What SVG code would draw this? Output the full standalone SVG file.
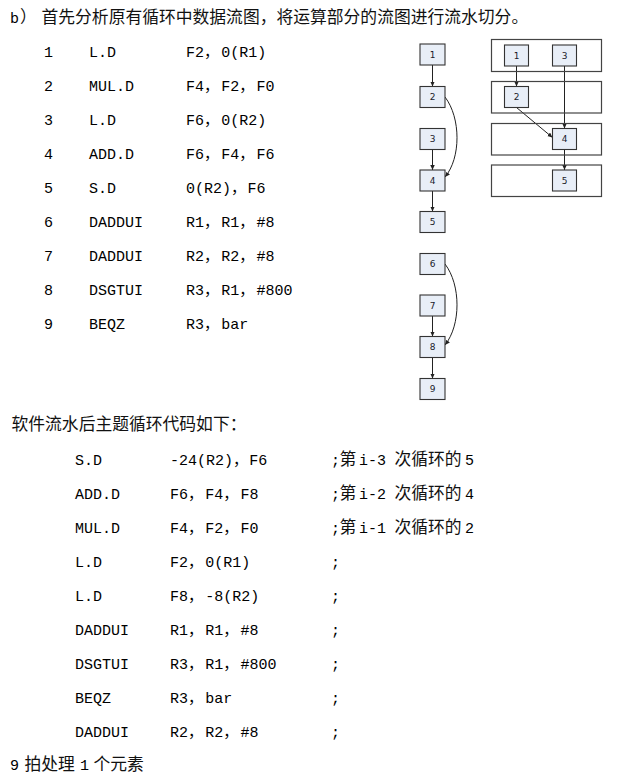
<svg xmlns="http://www.w3.org/2000/svg" width="623" height="776" viewBox="0 0 623 776">
<style>
.zh{font-family:"Noto Sans CJK SC",sans-serif;font-size:16.8px;fill:#111}
.mono{font-family:"Liberation Mono","Noto Sans CJK SC",monospace;font-size:15px;fill:#000}
.node rect{fill:#e8eef7;stroke:#333;stroke-width:1.1}
.node text{font-family:"DejaVu Sans",sans-serif;font-size:9px;fill:#1a1a2a;text-anchor:middle}
.stage{fill:none;stroke:#444;stroke-width:1.2}
.edge{fill:none;stroke:#222;stroke-width:1;marker-end:url(#ah)}
</style>
<defs>
<marker id="ah" markerUnits="userSpaceOnUse" markerWidth="6" markerHeight="5" refX="5" refY="2.25" orient="auto">
<path d="M0,0 L5,2.25 L0,4.5 z" fill="#222"/>
</marker>
</defs>
<rect width="623" height="776" fill="#fff"/>

<g id="title">
<text class="mono" x="10" y="23">b</text>
<text class="zh" x="20" y="23">）</text>
<text class="zh" x="41.5" y="23">首先分析原有循环中数据流图，将运算部分的流图进行流水切分。</text>
</g>

<g id="code1" class="mono">
<text x="44" y="57">1</text><text x="89" y="57">L.D</text><text y="57"><tspan x="186">F2，</tspan><tspan x="221.2">0(R1)</tspan></text>
<text x="44" y="91">2</text><text x="89" y="91">MUL.D</text><text y="91"><tspan x="186">F4，</tspan><tspan x="221.2">F2，</tspan><tspan x="256.4">F0</tspan></text>
<text x="44" y="125">3</text><text x="89" y="125">L.D</text><text y="125"><tspan x="186">F6，</tspan><tspan x="221.2">0(R2)</tspan></text>
<text x="44" y="159">4</text><text x="89" y="159">ADD.D</text><text y="159"><tspan x="186">F6，</tspan><tspan x="221.2">F4，</tspan><tspan x="256.4">F6</tspan></text>
<text x="44" y="193">5</text><text x="89" y="193">S.D</text><text y="193"><tspan x="186">0(R2)，</tspan><tspan x="247.6">F6</tspan></text>
<text x="44" y="227">6</text><text x="89" y="227">DADDUI</text><text y="227"><tspan x="186">R1，</tspan><tspan x="221.2">R1，</tspan><tspan x="256.4">#8</tspan></text>
<text x="44" y="261">7</text><text x="89" y="261">DADDUI</text><text y="261"><tspan x="186">R2，</tspan><tspan x="221.2">R2，</tspan><tspan x="256.4">#8</tspan></text>
<text x="44" y="295">8</text><text x="89" y="295">DSGTUI</text><text y="295"><tspan x="186">R3，</tspan><tspan x="221.2">R1，</tspan><tspan x="256.4">#800</tspan></text>
<text x="44" y="329">9</text><text x="89" y="329">BEQZ</text><text y="329"><tspan x="186">R3，</tspan><tspan x="221.2">bar</tspan></text>
</g>

<g id="connectors">
<line class="edge" x1="432.5" y1="65" x2="432.5" y2="86.5"/>
<path class="edge" d="M445,97 C461,118 461,158 445,177"/>
<line class="edge" x1="432.5" y1="149.5" x2="432.5" y2="170"/>
<line class="edge" x1="432.5" y1="191" x2="432.5" y2="211.5"/>
<path class="edge" d="M445,264 C461,285 461,325 445,345"/>
<line class="edge" x1="432.5" y1="316" x2="432.5" y2="336.5"/>
<line class="edge" x1="432.5" y1="357.5" x2="432.5" y2="378.5"/>
<line class="edge" x1="516.5" y1="66" x2="516.5" y2="86.5"/>
<line class="edge" x1="564.5" y1="66" x2="564.5" y2="128.5"/>
<line class="edge" x1="516.5" y1="107.5" x2="552.5" y2="137.5"/>
<line class="edge" x1="564.5" y1="149.5" x2="564.5" y2="170"/>
</g>

<g id="stages">
<rect class="stage" x="491.5" y="39.5" width="110" height="32"/>
<rect class="stage" x="491.5" y="81.5" width="110" height="31.5"/>
<rect class="stage" x="491.5" y="123.5" width="110" height="31.5"/>
<rect class="stage" x="491.5" y="165" width="110" height="31.5"/>
</g>

<g id="L1" class="node"><rect x="420" y="44" width="25" height="21"/><text x="432.5" y="57.5">1</text></g>
<g id="L2" class="node"><rect x="420" y="86.5" width="25" height="21"/><text x="432.5" y="100">2</text></g>
<g id="L3" class="node"><rect x="420" y="128.5" width="25" height="21"/><text x="432.5" y="142">3</text></g>
<g id="L4" class="node"><rect x="420" y="170" width="25" height="21"/><text x="432.5" y="183.5">4</text></g>
<g id="L5" class="node"><rect x="420" y="211.5" width="25" height="21"/><text x="432.5" y="225">5</text></g>
<g id="L6" class="node"><rect x="420" y="253.5" width="25" height="21"/><text x="432.5" y="267">6</text></g>
<g id="L7" class="node"><rect x="420" y="295" width="25" height="21"/><text x="432.5" y="308.5">7</text></g>
<g id="L8" class="node"><rect x="420" y="336.5" width="25" height="21"/><text x="432.5" y="350">8</text></g>
<g id="L9" class="node"><rect x="420" y="378.5" width="25" height="21"/><text x="432.5" y="392">9</text></g>

<g id="R1" class="node"><rect x="504.5" y="45" width="24" height="21"/><text x="516.5" y="58.5">1</text></g>
<g id="R3" class="node"><rect x="552.5" y="45" width="24" height="21"/><text x="564.5" y="58.5">3</text></g>
<g id="R2" class="node"><rect x="504.5" y="86.5" width="24" height="21"/><text x="516.5" y="100">2</text></g>
<g id="R4" class="node"><rect x="552.5" y="128.5" width="24" height="21"/><text x="564.5" y="142">4</text></g>
<g id="R5" class="node"><rect x="552.5" y="170" width="24" height="21"/><text x="564.5" y="183.5">5</text></g>

<g id="subtitle">
<text class="zh" x="11.5" y="430">软件流水后主题循环代码如下：</text>
</g>

<g id="code2" class="mono">
<text x="75" y="465">S.D</text><text y="465"><tspan x="170">-24(R2)，</tspan><tspan x="249.2">F6</tspan></text>
<text x="331" y="465">;</text>
<text x="75" y="499">ADD.D</text><text y="499"><tspan x="170">F6，</tspan><tspan x="205.2">F4，</tspan><tspan x="240.4">F8</tspan></text>
<text x="331" y="499">;</text>
<text x="75" y="533">MUL.D</text><text y="533"><tspan x="170">F4，</tspan><tspan x="205.2">F2，</tspan><tspan x="240.4">F0</tspan></text>
<text x="331" y="533">;</text>
<text x="75" y="567">L.D</text><text y="567"><tspan x="170">F2，</tspan><tspan x="205.2">0(R1)</tspan></text>
<text x="331" y="567">;</text>
<text x="75" y="601">L.D</text><text y="601"><tspan x="170">F8，</tspan><tspan x="205.2">-8(R2)</tspan></text>
<text x="331" y="601">;</text>
<text x="75" y="635">DADDUI</text><text y="635"><tspan x="170">R1，</tspan><tspan x="205.2">R1，</tspan><tspan x="240.4">#8</tspan></text>
<text x="331" y="635">;</text>
<text x="75" y="669">DSGTUI</text><text y="669"><tspan x="170">R3，</tspan><tspan x="205.2">R1，</tspan><tspan x="240.4">#800</tspan></text>
<text x="331" y="669">;</text>
<text x="75" y="703">BEQZ</text><text y="703"><tspan x="170">R3，</tspan><tspan x="205.2">bar</tspan></text>
<text x="331" y="703">;</text>
<text x="75" y="737">DADDUI</text><text y="737"><tspan x="170">R2，</tspan><tspan x="205.2">R2，</tspan><tspan x="240.4">#8</tspan></text>
<text x="331" y="737">;</text>
</g>

<g id="comments">
<text y="465"><tspan class="zh" x="339.5">第</tspan><tspan class="mono" x="359">i-3</tspan><tspan class="zh" x="394.5">次循环的</tspan><tspan class="mono" x="465">5</tspan></text>
<text y="499"><tspan class="zh" x="339.5">第</tspan><tspan class="mono" x="359">i-2</tspan><tspan class="zh" x="394.5">次循环的</tspan><tspan class="mono" x="465">4</tspan></text>
<text y="533"><tspan class="zh" x="339.5">第</tspan><tspan class="mono" x="359">i-1</tspan><tspan class="zh" x="394.5">次循环的</tspan><tspan class="mono" x="465">2</tspan></text>
</g>

<g id="footer">
<text y="770"><tspan class="mono" x="10">9</tspan><tspan class="zh" x="24.5">拍处理</tspan><tspan class="mono" x="80">1</tspan><tspan class="zh" x="93.5">个元素</tspan></text>
</g>
</svg>
